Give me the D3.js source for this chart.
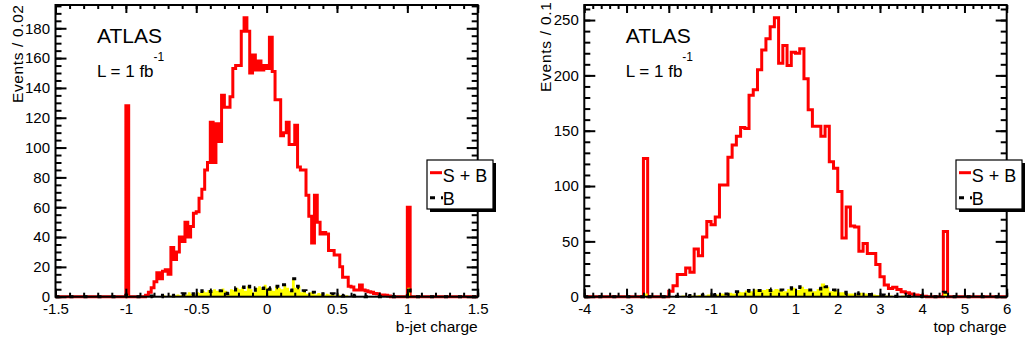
<!DOCTYPE html>
<html><head><meta charset="utf-8">
<script src="https://cdn.jsdelivr.net/npm/d3@7"></script>
<style>html,body{margin:0;padding:0;background:#fff;} svg{display:block;}</style>
</head><body>
<svg id="c" width="1025" height="342"></svg>
<script>
// ---------- data: b-jet charge (150 bins, -1.5 .. 1.5, width 0.02) ----------
const bjetRange = [-1.5, 1.5];
const bjetSB = [
  0,0,0,0,0,0,0,0,0,0,
  0,0,0,0,0,0,0,0,0,0,
  0,0,0,0,0,128,0,0,0,0,
  0,0,1,3,6,10,16,12,17,18,
  15,33,25,30,40,37,50,40,47,56,
  57,66,72,85,90,117,90,116,104,135,
  127,127,134,153,155,155,178,187,178,150,
  162,152,158,152,155,153,174,151,132,132,
  108,110,117,102,102,115,87,85,85,68,
  54,36,68,50,42,43,42,31,31,28,
  28,20,13,13,7,6.5,4.5,4.5,7.8,4.5,
  4,3.4,3,2.2,2,1.1,1.1,1,0.5,0,
  0,0,0,0,0,60,0,0,0,0,
  0,0,0,0,0,0,0,0,0,0,
  0,0,0,0,0,0,0,0,0,0
];
const bjetB = [
  0,0,0,0,0,0,0,0,0,0,
  0,0,0,0,0,0,0,0,0,0,
  0,0,0,0,0,1,0,0,0,0,
  0,0,0,0,0.5,0,0.5,0,1,0.5,
  1,0.5,1,1.5,1,2,1.5,3,2,1.5,
  3,2.5,4,3,4.5,3.5,5,4,4,5.5,
  4,2,5,4.5,6,5,6.5,4,7,5,
  3,6,7,5.5,8,6,5,4,7,6,
  5,8,6,4,12,6,7,3,4,2,
  3,3,1.5,2.5,2,1,2,1.5,2,1,
  1.5,1,0.5,1,0.5,1,0.5,0.5,0,0.5,
  0,0,0,0,0,0,0,0,0,0,
  0,0,0,0,0,6,0,0,0,0,
  0,0,0,0,0,0,0,0,0,0,
  0,0,0,0,0,0,0,0,0,0
];
const bjetXTicks = [-1.5,-1,-0.5,0,0.5,1,1.5];
const bjetYTicks = [0,20,40,60,80,100,120,140,160,180];

// ---------- data: top charge (100 bins, -4 .. 6, width 0.1) ----------
const topRange = [-4, 6];
const topSB = [
  0,0,0,0,0,0,0,0,0,0,
  0,0,0,0,125,0,0,0,0,0,
  5,10,20,20,26,22,43,37,54,68,
  65,72,101,101,126,137,145,153,152,182,
  187,205,223,233,244,252,211,227,209,221,
  220,224,197,169,154,154,145,154,122,116,
  95,53,81,64,63,41,48,39,39,29,
  18,10.5,7.5,8.5,6.5,4.5,3.5,2.5,1.5,1,
  0.5,0,0,0,0,59,0,0,0,0,
  0,0,0,0,0,0,0,0,0,0
];
const topB = [
  0,0,0,0,0,0,0,0,0,0,
  0,0,0,0,3,0,0,0,0,0,
  0.5,0.5,0.5,1,0.5,1,1,1.5,1,2,
  1.5,2,3,2.5,3.5,3,4.5,4,5.5,5,
  6.5,5.5,6,7,5.5,7,6,5,7,8,
  6,9,7,6,5,7,12,9,5,6,
  4,4,3,3,2.5,3.5,3,2,2,1.5,
  1.5,1,1,0.5,0.5,1,0.5,0.5,0,0.5,
  0,0,0,0,0,4,0,0,0,0,
  0,0,0,0,0,0,0,0,0,0
];
const topXTicks = [-4,-3,-2,-1,0,1,2,3,4,5,6];
const topYTicks = [0,50,100,150,200,250];

const legendLabels = ["S + B", "B"];

// ---------- drawing ----------
const FONT = "'Liberation Sans', Arial, Helvetica, sans-serif";
const svg = d3.select("#c");

function panel(cfg){
  const g = svg.append("g");
  const x = d3.scaleLinear().domain(cfg.range).range([cfg.left, cfg.right]);
  const y = d3.scaleLinear().domain([0, cfg.yMax]).range([cfg.bottom, cfg.top]);
  const n = cfg.sb.length;
  const w = (cfg.range[1]-cfg.range[0])/n;
  const pts = vals => vals.map((v,i)=>[cfg.range[0]+i*w, v]).concat([[cfg.range[1], vals[n-1]]]);
  const line = d3.line().x(d=>x(d[0])).y(d=>y(d[1])).curve(d3.curveStepAfter);
  const area = d3.area().x(d=>x(d[0])).y0(y(0)).y1(d=>y(d[1])).curve(d3.curveStepAfter);

  g.append("path").attr("d", line(pts(cfg.sb))).attr("fill","none")
    .attr("stroke","#ff0000").attr("stroke-width",3);
  g.append("path").attr("d", area(pts(cfg.b))).attr("fill","#ffff00");
  g.append("path").attr("d", line(pts(cfg.b))).attr("fill","none")
    .attr("stroke","#000").attr("stroke-width",3).attr("stroke-dasharray","4 10");

  const style = sel => {
    sel.select(".domain").remove();
    sel.selectAll(".tick line").attr("stroke","#000").attr("stroke-width",2);
    sel.selectAll(".tick text").attr("fill","#000").style("font-family",FONT).style("font-size","15px");
  };
  const xMinor = d3.range(cfg.range[0], cfg.range[1]+1e-9, cfg.xMinorStep);
  const yMinor = d3.range(0, cfg.yMax, cfg.yMinorStep);

  g.append("g").attr("transform",`translate(0,${cfg.bottom})`)
    .call(d3.axisBottom(x).tickValues(xMinor).tickSize(-4).tickFormat("")).call(style);
  g.append("g").attr("transform",`translate(0,${cfg.bottom})`)
    .call(d3.axisBottom(x).tickValues(cfg.xTicks).tickSize(-8).tickPadding(6.5).tickFormat(d=>String(d))).call(style);
  g.append("g").attr("transform",`translate(0,${cfg.top})`)
    .call(d3.axisTop(x).tickValues(xMinor).tickSize(-4).tickFormat("")).call(style);
  g.append("g").attr("transform",`translate(0,${cfg.top})`)
    .call(d3.axisTop(x).tickValues(cfg.xTicks).tickSize(-8).tickFormat("")).call(style);

  g.append("g").attr("transform",`translate(${cfg.left},0)`)
    .call(d3.axisLeft(y).tickValues(yMinor).tickSize(-6).tickFormat("")).call(style);
  g.append("g").attr("transform",`translate(${cfg.left},0)`)
    .call(d3.axisLeft(y).tickValues(cfg.yTicks).tickSize(-11).tickPadding(5.5).tickFormat(d=>String(d))).call(style);
  g.append("g").attr("transform",`translate(${cfg.right},0)`)
    .call(d3.axisRight(y).tickValues(yMinor).tickSize(-6).tickFormat("")).call(style);
  g.append("g").attr("transform",`translate(${cfg.right},0)`)
    .call(d3.axisRight(y).tickValues(cfg.yTicks).tickSize(-11).tickFormat("")).call(style);

  g.append("rect").attr("x",cfg.left).attr("y",cfg.top)
    .attr("width",cfg.right-cfg.left).attr("height",cfg.bottom-cfg.top)
    .attr("fill","none").attr("stroke","#000").attr("stroke-width",2);

  // axis titles
  g.append("text").attr("transform",`translate(${cfg.left-33},${cfg.top+cfg.ytOff}) rotate(-90)`)
    .attr("text-anchor","end").style("font-family",FONT).style("font-size","15.5px")
    .attr("textLength",cfg.ytLen).attr("lengthAdjust","spacing")
    .text(cfg.yTitle);
  g.append("text").attr("x",cfg.right).attr("y",331.5).attr("text-anchor","end")
    .style("font-family",FONT).style("font-size","15.5px").text(cfg.xTitle);

  // labels
  g.append("text").attr("x",cfg.left+41.5).attr("y",43.3)
    .style("font-family",FONT).style("font-size","21px").text("ATLAS");
  const L = g.append("text").attr("x",cfg.left+41.5).attr("y",77.2)
    .style("font-family",FONT).style("font-size","17px");
  L.append("tspan").text("L = 1 fb");
  L.append("tspan").attr("y",60.5).style("font-size","12px").text("-1");

  // legend
  const lx = cfg.legX, ly = 160, lw = 66, lh = 49;
  g.append("rect").attr("x",lx+3).attr("y",ly+3).attr("width",lw).attr("height",lh).attr("fill","#000");
  g.append("rect").attr("x",lx).attr("y",ly).attr("width",lw).attr("height",lh)
    .attr("fill","#fff").attr("stroke","#000").attr("stroke-width",1.2);
  g.append("line").attr("x1",lx+3).attr("x2",lx+15).attr("y1",ly+12.7).attr("y2",ly+12.7)
    .attr("stroke","#ff0000").attr("stroke-width",3);
  g.append("line").attr("x1",lx+3).attr("x2",lx+16).attr("y1",ly+37.7).attr("y2",ly+37.7)
    .attr("stroke","#000").attr("stroke-width",3).attr("stroke-dasharray","5 6");
  legendLabels.forEach((t,i)=>{
    g.append("text").attr("x",lx+15.7).attr("y",ly+21.7+i*23.5)
      .style("font-family",FONT).style("font-size","18px").text(t);
  });
}

panel({range:bjetRange, sb:bjetSB, b:bjetB, left:55.5, right:477.7, top:5, bottom:296.7,
  yMax:195.6, xTicks:bjetXTicks, yTicks:bjetYTicks, xMinorStep:0.1, yMinorStep:5,
  yTitle:"Events / 0.02", xTitle:"b-jet charge", ytOff:0, ytLen:98, legX:427});
panel({range:topRange, sb:topSB, b:topB, left:584.3, right:1006.7, top:5, bottom:296.7,
  yMax:263.6, xTicks:topXTicks, yTicks:topYTicks, xMinorStep:0.2, yMinorStep:10,
  yTitle:"Events / 0.1", xTitle:"top charge", ytOff:-3, ytLen:90, legX:956});
</script>
</body></html>
